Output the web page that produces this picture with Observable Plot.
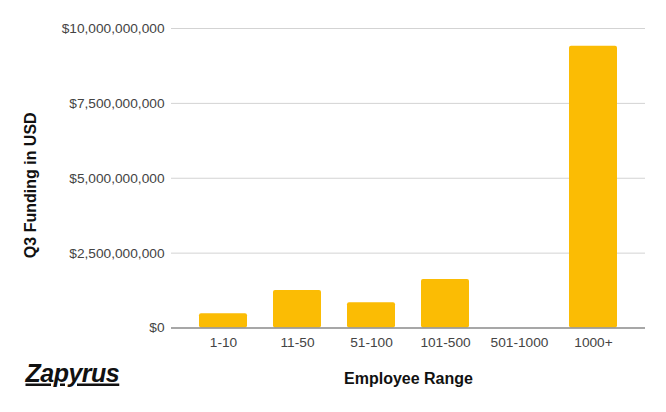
<!DOCTYPE html>
<html>
<head>
<meta charset="utf-8">
<script src="https://cdn.jsdelivr.net/npm/d3@7"></script>
<script src="https://cdn.jsdelivr.net/npm/@observablehq/plot@0.6"></script>
<style>
  html, body { margin: 0; padding: 0; background: #fff; }
  #chart svg { display: block; font-family: "Liberation Sans", Arial, sans-serif; }
</style>
</head>
<body>
<div id="chart"></div>
<script>
const categories = ["1-10", "11-50", "51-100", "101-500", "501-1000", "1000+"];
const funding = [473000000, 1250000000, 840000000, 1617000000, 0, 9410000000];
const yTicks = [0, 2500000000, 5000000000, 7500000000, 10000000000];
const xTitle = "Employee Range";
const yTitle = "Q3 Funding in USD";
const logoText = "Zapyrus";

const data = categories.map((c, i) => ({ range: c, value: funding[i] }));

const chart = Plot.plot({
  width: 666,
  height: 412,
  marginTop: 28,
  marginBottom: 84.5,
  marginLeft: 171,
  marginRight: 21,
  style: { fontFamily: "'Liberation Sans', Arial, sans-serif", background: "#fff" },
  x: { type: "band", domain: categories, paddingInner: 0.347, paddingOuter: 0.359 },
  y: { domain: [0, 10000000000] },
  marks: [
    Plot.ruleY(yTicks.filter(d => d > 0), { stroke: "#d3d3d3", strokeWidth: 1 }),
    Plot.barY(data, { x: "range", y: "value", fill: "#FBBC04", rx: 2 }),
    Plot.ruleY([0], { stroke: "#8a8a8a", strokeWidth: 1.3 }),
    Plot.axisY({ ticks: yTicks, tickFormat: d3.format("$,"), tickSize: 0, tickPadding: 7, label: null, fontSize: 13.7, fill: "#444" }),
    Plot.axisX({ tickSize: 0, tickPadding: 9, label: null, fontSize: 13.7, fill: "#444" }),
    Plot.text([yTitle], { frameAnchor: "left", textAnchor: "middle", dx: -141, dy: 7, rotate: -90, fontSize: 16, fontWeight: "bold", fill: "#111" }),
    Plot.text([xTitle], { frameAnchor: "bottom", dy: 55.5, fontSize: 16, fontWeight: "bold", fill: "#111" }),
    Plot.text([logoText], { frameAnchor: "bottom-left", dx: -146, dy: 53.5, textAnchor: "start", fontSize: 25, fontStyle: "italic", fontWeight: "bold", fill: "#111" })
  ]
});
d3.select(chart).selectAll("text").filter(function () { return this.textContent === logoText; })
  .style("letter-spacing", "-0.5px")
  .style("text-decoration", "underline")
  .style("text-decoration-thickness", "1px");
document.getElementById("chart").appendChild(chart);
</script>
</body>
</html>
